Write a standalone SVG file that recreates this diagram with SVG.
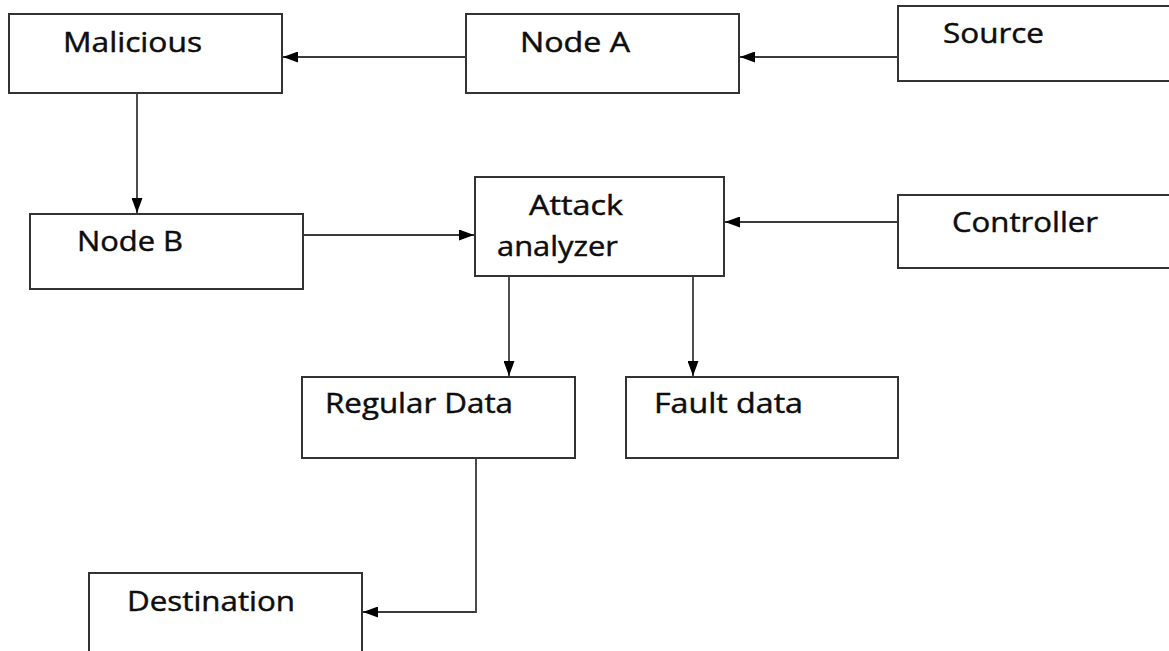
<svg xmlns="http://www.w3.org/2000/svg" width="1169" height="651" viewBox="0 0 1169 651">
  <style>
    .box { fill: #ffffff; stroke: #333333; stroke-width: 2; }
    .lbl { font-family: "Open Sans", "DejaVu Sans", sans-serif; font-size: 27px; fill: #0d0d0d; stroke: #0d0d0d; stroke-width: 0.45; }
    .wire { fill: none; stroke: #3a3a3a; stroke-width: 1.8; }
  </style>
  <defs>
    <marker id="arrow" markerUnits="userSpaceOnUse" markerWidth="16" markerHeight="11" refX="15" refY="5.5" orient="auto">
      <path d="M0,0 L15,5.5 L0,11 Z" fill="#000000"/>
    </marker>
  </defs>
  <rect width="1169" height="651" fill="#ffffff"/>

  <g id="malicious">
    <rect class="box" x="9" y="14" width="273" height="79"/>
    <text class="lbl" x="63" y="52" textLength="139" lengthAdjust="spacingAndGlyphs">Malicious</text>
  </g>
  <g id="node-a">
    <rect class="box" x="466" y="14" width="273" height="79"/>
    <text class="lbl" x="520" y="52" textLength="110" lengthAdjust="spacingAndGlyphs">Node A</text>
  </g>
  <g id="source">
    <rect class="box" x="898" y="6" width="272" height="75"/>
    <text class="lbl" x="943" y="43" textLength="101" lengthAdjust="spacingAndGlyphs">Source</text>
  </g>
  <g id="node-b">
    <rect class="box" x="30" y="214" width="273" height="75"/>
    <text class="lbl" x="77" y="251" textLength="106" lengthAdjust="spacingAndGlyphs">Node B</text>
  </g>
  <g id="attack-analyzer">
    <rect class="box" x="475" y="177" width="249" height="99"/>
    <text class="lbl" x="529" y="215" textLength="94" lengthAdjust="spacingAndGlyphs">Attack</text>
    <text class="lbl" x="497" y="256" textLength="121" lengthAdjust="spacingAndGlyphs">analyzer</text>
  </g>
  <g id="controller">
    <rect class="box" x="898" y="195" width="272" height="73"/>
    <text class="lbl" x="952" y="232" textLength="146" lengthAdjust="spacingAndGlyphs">Controller</text>
  </g>
  <g id="regular-data">
    <rect class="box" x="302" y="377" width="273" height="81"/>
    <text class="lbl" x="325" y="413" textLength="188" lengthAdjust="spacingAndGlyphs">Regular Data</text>
  </g>
  <g id="fault-data">
    <rect class="box" x="626" y="377" width="272" height="81"/>
    <text class="lbl" x="654" y="413" textLength="149" lengthAdjust="spacingAndGlyphs">Fault data</text>
  </g>
  <g id="destination">
    <rect class="box" x="89" y="573" width="273" height="90"/>
    <text class="lbl" x="127" y="611" textLength="168" lengthAdjust="spacingAndGlyphs">Destination</text>
  </g>

  <g id="connectors">
    <line class="wire" x1="466" y1="57" x2="283" y2="57" marker-end="url(#arrow)"/>
    <line class="wire" x1="898" y1="57" x2="740" y2="57" marker-end="url(#arrow)"/>
    <line class="wire" x1="137" y1="93" x2="137" y2="213" marker-end="url(#arrow)"/>
    <line class="wire" x1="303" y1="235" x2="474" y2="235" marker-end="url(#arrow)"/>
    <line class="wire" x1="898" y1="222" x2="725" y2="222" marker-end="url(#arrow)"/>
    <line class="wire" x1="509" y1="276" x2="509" y2="376" marker-end="url(#arrow)"/>
    <line class="wire" x1="693" y1="276" x2="693" y2="376" marker-end="url(#arrow)"/>
    <polyline class="wire" points="476,458 476,612 363,612" marker-end="url(#arrow)"/>
  </g>
</svg>
